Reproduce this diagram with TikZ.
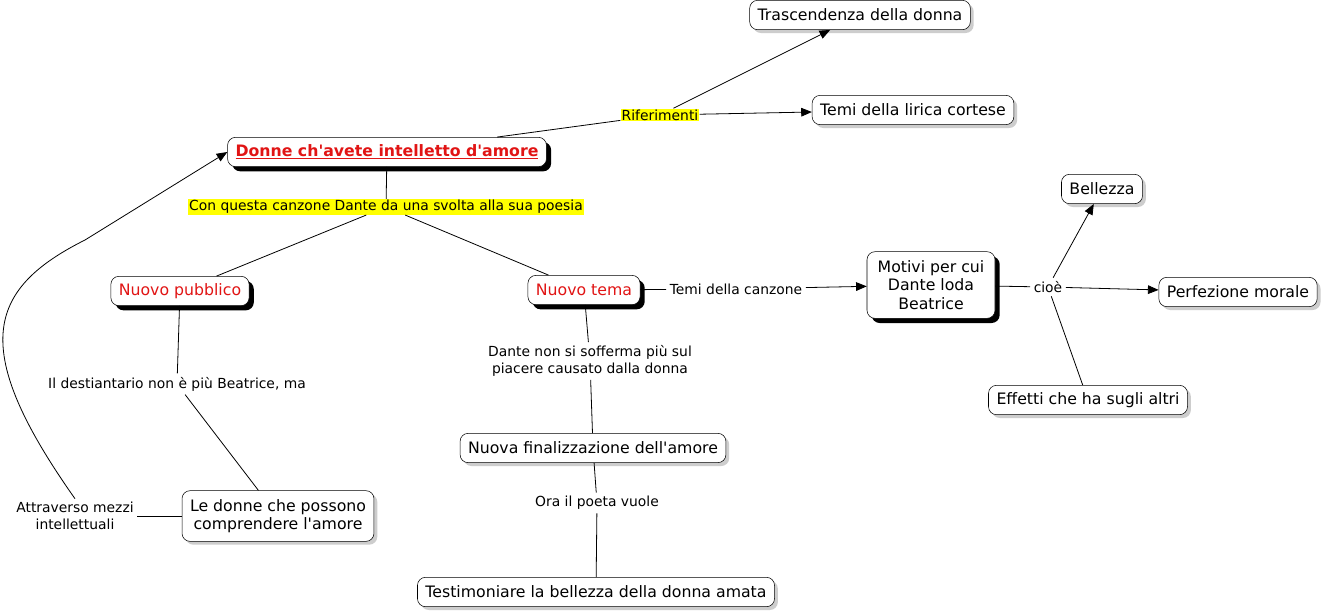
\documentclass[tikz,border=0pt]{standalone}
\usepackage{fontspec}
\setmainfont{DejaVu Sans}
\usetikzlibrary{arrows.meta,shadows,positioning}
\definecolor{conceptred}{RGB}{225,20,20}
\definecolor{hilite}{RGB}{255,255,0}
\definecolor{softshadow}{RGB}{205,205,205}
\newcommand{\conceptfont}{\fontsize{11.8}{14}\selectfont}
\newcommand{\linkfont}{\fontsize{10.4}{12.5}\selectfont}
\newcommand{\apo}{\textquotesingle}

\begin{document}
\begin{tikzpicture}[
    x=0.75pt, y=-0.75pt,
    cbox/.style={draw, rounded corners=6pt, fill=white, font=\conceptfont, align=center, inner xsep=6pt, inner ysep=3pt, minimum height=22pt},
    concept/.style={cbox, drop shadow={shadow xshift=2.5pt, shadow yshift=-2.5pt, fill=softshadow, opacity=1}},
    strongconcept/.style={cbox, drop shadow={shadow xshift=3.5pt, shadow yshift=-3.5pt, fill=black, opacity=1}},
    linklabel/.style={font=\linkfont, align=center, inner sep=2.5pt},
    marked/.style={linklabel, fill=hilite, inner sep=0.8pt},
    link/.style={draw, line width=0.6pt},
    arrow/.style={link, -{Triangle[length=8pt, width=6.5pt]}}
]
\path[use as bounding box, fill=white] (0,0) rectangle (1324,612);

% Concetto centrale
\node[strongconcept, text=conceptred, font=\conceptfont\bfseries] (main) at (387,152) {\underline{Donne ch\apo avete intelletto d\apo amore}};

% Riferimenti
\node[marked] (rif) at (660,115) {Riferimenti};
\node[concept] (trasc) at (860,15) {Trascendenza della donna};
\node[concept] (lirica) at (913,110) {Temi della lirica cortese};

% La svolta
\node[marked] (svolta) at (386,207) {Con questa canzone Dante da una svolta alla sua poesia};
\node[strongconcept, text=conceptred] (pubblico) at (180,291) {Nuovo pubblico};
\node[strongconcept, text=conceptred] (tema) at (584,290) {Nuovo tema};

% Temi della canzone
\node[linklabel] (temicanz) at (736,289) {Temi della canzone};
\node[strongconcept, minimum width=96pt, minimum height=50pt] (motivi) at (931,285) {Motivi per cui\\Dante loda\\Beatrice};
\node[linklabel] (cioe) at (1048,287) {cioè};
\node[concept] (bellezza) at (1102,189) {Bellezza};
\node[concept] (perfezione) at (1238,292) {Perfezione morale};
\node[concept] (effetti) at (1088,400) {Effetti che ha sugli altri};

% Nuovo tema
\node[linklabel] (sofferma) at (590,361) {Dante non si sofferma più sul\\piacere causato dalla donna};
\node[concept] (finaliz) at (593,448) {Nuova finalizzazione dell\apo amore};
\node[linklabel] (ora) at (597,503) {Ora il poeta vuole};
\node[concept] (testim) at (596,592) {Testimoniare la bellezza della donna amata};

% Nuovo pubblico
\node[linklabel] (destin) at (177,384) {Il destiantario non è più Beatrice, ma};
\node[concept, minimum height=38pt] (ledonne) at (278,516) {Le donne che possono\\comprendere l\apo amore};
\node[linklabel] (mezzi) at (75,516) {Attraverso mezzi\\intellettuali};

% Collegamenti
\draw[link] (main) -- (rif);
\draw[arrow] (rif) -- (trasc);
\draw[arrow] (rif) -- (lirica);
\draw[link] (main) -- (svolta);
\draw[link] (svolta) -- (pubblico);
\draw[link] (svolta) -- (tema);
\draw[link] (tema) -- (temicanz);
\draw[arrow] (temicanz) -- (motivi);
\draw[link] (motivi) -- (cioe);
\draw[arrow] (cioe) -- (bellezza);
\draw[arrow] (cioe) -- (perfezione);
\draw[link] (effetti) -- (cioe);
\draw[link] (tema) -- (sofferma);
\draw[link] (sofferma) -- (finaliz);
\draw[link] (finaliz) -- (ora);
\draw[link] (ora) -- (testim);
\draw[link] (pubblico) -- (destin);
\draw[link] (destin) -- (ledonne);
\draw[link] (ledonne) -- (mezzi);
\draw[arrow] (mezzi.north) .. controls (-30,350) and (-15,290) .. (85,240) -- (main.west);

\end{tikzpicture}
\end{document}
